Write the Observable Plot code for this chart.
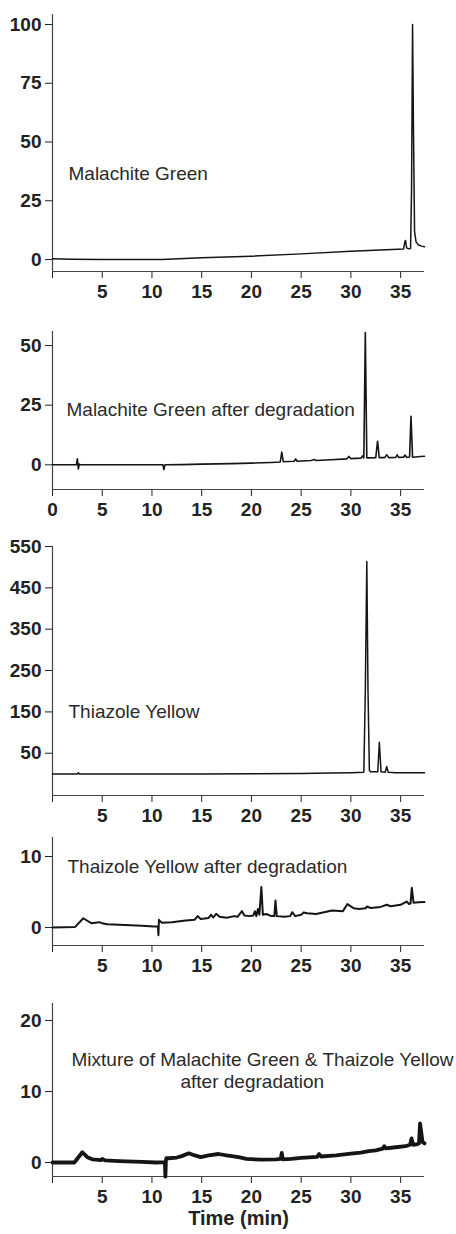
<!DOCTYPE html>
<html><head><meta charset="utf-8">
<script src="https://cdn.jsdelivr.net/npm/d3@7"></script>
<script src="https://cdn.jsdelivr.net/npm/@observablehq/plot@0.6"></script>
<style>
body{margin:0;background:#fff;}
#chart{position:relative;width:456px;height:1234px;overflow:hidden;}
#chart svg{position:absolute;left:0;}
</style></head><body><div id="chart"></div>
<script>
// Shared x ticks (retention time, min)
const xTicks = [0, 5, 10, 15, 20, 25, 30, 35];

// Panel 1: Malachite Green
const mgTime = [0, 2, 5, 8, 11, 15, 20, 25, 30, 35.3, 35.42, 35.5, 35.6, 35.75, 36.0, 36.1, 36.2, 36.28, 36.4, 36.55, 36.8, 37.1, 37.4];
const mgValue = [0.3, 0.1, 0, 0, 0, 0.7, 1.4, 2.4, 3.5, 4.5, 7.5, 8.1, 5, 4.6, 4.7, 30, 100, 60, 12, 7.5, 6.2, 5.7, 5.4];
const mgTicks = [0, 25, 50, 75, 100];

// Panel 2: Malachite Green after degradation
const mgdTime = [0, 2.4, 2.5, 2.6, 2.7, 2.8, 5, 8, 11.1, 11.2, 11.3, 13, 15, 18, 20, 22, 22.9, 23.05, 23.2, 24.3, 24.45, 24.6, 26, 26.3, 26.5, 28, 29.6, 29.8, 30, 30.5, 31, 31.2, 31.3, 31.45, 31.6, 31.7, 32.5, 32.68, 32.85, 33.4, 33.6, 33.8, 34.5, 34.65, 34.8, 35.3, 35.45, 35.6, 35.9, 36.04, 36.2, 36.5, 37, 37.4];
const mgdValue = [0, 0, 2.5, -1.7, 0.3, 0, 0, 0, 0, -2, 0, 0.1, 0.3, 0.5, 0.7, 1.0, 1.2, 5.3, 1.3, 1.5, 2.5, 1.5, 1.8, 2.2, 1.8, 2.1, 2.5, 3.5, 2.6, 2.7, 2.8, 3.8, 2.9, 55.5, 3.0, 2.9, 3.0, 9.9, 3.0, 3.0, 4.2, 3.0, 3.1, 4.2, 3.1, 3.2, 4.1, 3.1, 3.3, 20.3, 3.2, 3.3, 3.5, 3.6];
const mgdTicks = [0, 25, 50];

// Panel 3: Thiazole Yellow
const tyTime = [0, 2.5, 2.6, 2.7, 5, 10, 15, 20, 25, 28, 30, 31.3, 31.45, 31.6, 31.72, 31.86, 32.0, 32.7, 32.86, 33.03, 33.45, 33.6, 33.75, 34.5, 36, 37.4];
const tyValue = [0, 0, 3, 0, 0, 0, 0, 0.5, 1, 2, 3, 4, 200, 514, 200, 8, 5, 5, 76.5, 5, 4, 17.7, 4, 3, 3, 3];
const tyTicks = [50, 150, 250, 350, 450, 550];

// Panel 4: Thaizole Yellow after degradation
const tydTime = [0, 2.25, 3.1, 3.5, 3.9, 4.7, 5.0, 5.5, 6.7, 9, 10.2, 10.6, 10.65, 10.7, 10.8, 11.0, 12, 13.4, 14.3, 14.6, 14.9, 15.7, 15.95, 16.15, 16.45, 16.8, 17.5, 18.3, 18.6, 19.05, 19.3, 19.8, 20.2, 20.35, 20.5, 20.65, 20.8, 21.0, 21.15, 21.5, 22, 22.3, 22.42, 22.55, 23.3, 23.9, 24.1, 24.4, 25, 25.25, 25.6, 26.5, 28.1, 29.2, 29.65, 30.3, 30.8, 31.5, 31.6, 32, 33, 33.6, 34, 35, 35.6, 35.85, 36.0, 36.12, 36.3, 36.8, 37.4];
const tydValue = [0, 0.05, 1.3, 0.95, 0.6, 0.75, 0.6, 0.45, 0.38, 0.25, 0.14, 0.15, -1.1, 1.08, 0.9, 0.66, 0.75, 0.99, 1.1, 1.6, 1.2, 1.35, 1.8, 1.4, 1.93, 1.5, 1.37, 1.6, 1.5, 2.3, 1.7, 1.6, 1.7, 2.3, 1.6, 2.6, 1.8, 5.7, 1.8, 1.9, 1.6, 1.6, 3.8, 1.6, 1.5, 1.6, 2.15, 1.6, 1.8, 2.1, 2.0, 1.9, 2.4, 2.3, 3.3, 2.7, 2.6, 2.7, 2.95, 2.75, 2.9, 3.2, 3.0, 3.2, 3.66, 3.3, 3.4, 5.6, 3.5, 3.55, 3.6];
const tydTicks = [0, 10];

// Panel 5: Mixture after degradation
const mixTime = [0, 2.2, 3.0, 3.5, 4, 4.9, 5.0, 5.3, 6.7, 9, 10.4, 11.3, 11.35, 11.4, 11.45, 11.7, 12.5, 13.0, 13.7, 14.3, 14.9, 15.7, 16.7, 17.5, 18.7, 19.5, 21, 22.5, 22.95, 23.05, 23.15, 24, 25, 26.6, 26.8, 27, 28.5, 30, 31, 31.8, 32.5, 33.2, 33.35, 33.5, 34.5, 35.5, 35.95, 36.1, 36.25, 36.7, 36.85, 36.95, 37.05, 37.2, 37.4];
const mixValue = [0, 0, 1.45, 0.75, 0.45, 0.35, 0.5, 0.3, 0.2, 0.1, 0.0, 0.05, -2.0, 0.3, 0.6, 0.6, 0.7, 0.9, 1.3, 1.0, 0.75, 1.0, 1.2, 1.0, 0.75, 0.5, 0.4, 0.45, 0.5, 1.35, 0.45, 0.5, 0.65, 0.8, 1.2, 0.85, 1.0, 1.25, 1.4, 1.6, 1.7, 1.95, 2.3, 2.0, 2.15, 2.3, 2.5, 3.4, 2.5, 2.6, 2.7, 5.5, 4.5, 2.9, 2.7];
const mixTicks = [0, 10, 20];

// Labels
const labels = [
  ["Malachite Green"],
  ["Malachite Green after degradation"],
  ["Thiazole Yellow"],
  ["Thaizole Yellow after degradation"],
  ["Mixture of Malachite Green & Thaizole Yellow", "after degradation"]
];
const xTitle = "Time (min)";

// Layout (positions only)
const layout = [
  {top: 0,    h: 300, mt: 14, mb: 29, yd: [-5.1, 104.26], sw: 1.5, zero: false, notes: [{dx: 16, dy: 165}]},
  {top: 300,  h: 230, mt: 31, mb: 41, yd: [-10.35, 55.9], sw: 1.6, zero: true,  notes: [{dx: 14, dy: 84}]},
  {top: 530,  h: 300, mt: 16, mb: 35, yd: [-52.2, 550],   sw: 1.5, zero: false, notes: [{dx: 16, dy: 171}]},
  {top: 830,  h: 170, mt: 7,  mb: 55, yd: [-2.54, 12.68], sw: 2.0, zero: false, notes: [{dx: 15, dy: 35}]},
  {top: 1000, h: 234, mt: 3,  mb: 58, yd: [-1.97, 22.4],  sw: 3.8, zero: false, notes: [{dx: 19, dy: 62}, {dx: 128, dy: 84}], title: true}
];
const series = [[mgTime, mgValue, mgTicks], [mgdTime, mgdValue, mgdTicks], [tyTime, tyValue, tyTicks], [tydTime, tydValue, tydTicks], [mixTime, mixValue, mixTicks]];

const chart = document.getElementById("chart");
layout.forEach((L, k) => {
  const [ts, vs, yt] = series[k];
  const data = ts.map((t, i) => ({t, v: vs[i]}));
  const marks = [
    Plot.ruleX([0], {stroke: "#444", strokeWidth: 1.2}),
    Plot.ruleY([L.yd[0]], {stroke: "#444", strokeWidth: 1.2}),
    Plot.line(data, {x: "t", y: "v", stroke: "#151515", strokeWidth: L.sw})
  ];
  L.notes.forEach((n, j) => {
    marks.push(Plot.text([labels[k][j]], {text: d => d, frameAnchor: "top-left", textAnchor: "start", lineAnchor: "bottom", dx: n.dx, dy: n.dy, fontSize: 19, fontWeight: "normal", fill: "#2a2a2a"}));
  });
  if (L.title) {
    marks.push(Plot.text([xTitle], {text: d => d, frameAnchor: "bottom", lineAnchor: "bottom", dy: 48, fontSize: 20, fontWeight: "bold", fill: "#222"}));
  }
  const svg = Plot.plot({
    width: 456, height: L.h,
    marginTop: L.mt, marginBottom: L.mb, marginLeft: 52, marginRight: 32,
    x: {domain: [0, 37.4], ticks: xTicks, tickFormat: d => (d === 0 && !L.zero) ? "" : String(d), tickSize: 7, tickPadding: 6, label: null},
    y: {domain: L.yd, ticks: yt, tickFormat: d => String(d), tickSize: 7, tickPadding: 4, label: null},
    style: {fontFamily: "'Liberation Sans', Arial, sans-serif", fontSize: "19px", fontWeight: "bold", color: "#222", background: "transparent", overflow: "visible"},
    marks
  });
  svg.style.top = L.top + "px";
  chart.appendChild(svg);
});
</script>
</body></html>
